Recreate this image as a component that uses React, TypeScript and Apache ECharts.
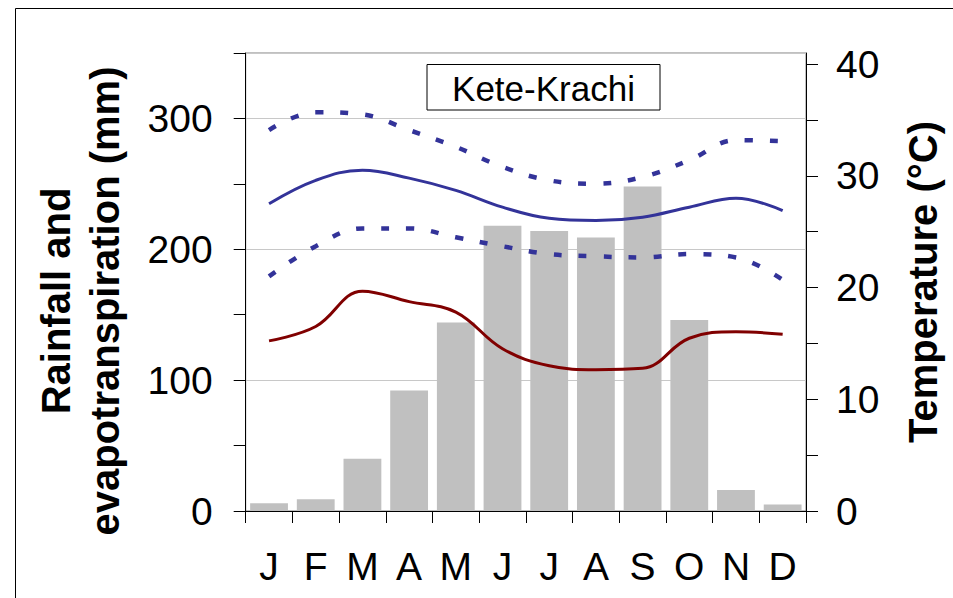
import React, { useEffect, useRef } from "react";
import * as echarts from "echarts";

const months = ["J", "F", "M", "A", "M", "J", "J", "A", "S", "O", "N", "D"];
const rainfall = [6, 9, 40, 92, 144, 218, 214, 209, 248, 146, 16, 5];
const evapotranspiration = [130, 141, 168, 160, 152, 124, 111, 108, 109, 132, 137, 135];
const tempMean = [27.5, 29.6, 30.5, 29.8, 28.7, 27.2, 26.2, 26.0, 26.3, 27.2, 28.0, 26.9];
const tempMax = [34.1, 35.7, 35.5, 34.1, 32.6, 30.8, 29.6, 29.3, 29.9, 31.4, 33.2, 33.1];
const tempMin = [21.0, 23.7, 25.3, 25.3, 24.5, 23.7, 23.0, 22.8, 22.7, 23.0, 22.7, 20.7];
const leftTicks = [0, 50, 100, 150, 200, 250, 300, 350];
const rightTicks = [0, 5, 10, 15, 20, 25, 30, 35, 40];
const stationName = "Kete-Krachi";
const leftTitle = "Rainfall and\nevapotranspiration (mm)";
const rightTitle = "Temperature (°C)";

const FONT = "'Liberation Sans', Arial, sans-serif";

export default function App() {
  const ref = useRef<HTMLDivElement>(null);
  useEffect(() => {
    if (!ref.current) return;
    const chart = echarts.init(ref.current, null, { renderer: "svg" });
    const option: any = {
      animation: false,
      backgroundColor: "#ffffff",
      grid: {
        left: 245.7,
        right: 147,
        top: 53,
        bottom: 87,
        show: true,
        borderColor: "#808080",
        borderWidth: 1,
        backgroundColor: "transparent",
      },
      xAxis: {
        type: "category",
        data: months,
        boundaryGap: true,
        axisLine: { lineStyle: { color: "#000", width: 1 } },
        axisTick: { show: true, alignWithLabel: false, length: 12, lineStyle: { color: "#000" } },
        axisLabel: { fontSize: 39, fontFamily: FONT, color: "#000", margin: 36, interval: 0 },
        splitLine: { show: false },
      },
      yAxis: [
        {
          type: "value",
          min: 0,
          max: 350,
          interval: 50,
          position: "left",
          axisLine: { show: true, lineStyle: { color: "#000", width: 1 } },
          axisTick: { show: true, length: 12, lineStyle: { color: "#000" }, customValues: leftTicks },
          axisLabel: {
            fontSize: 39,
            fontFamily: FONT,
            color: "#000",
            margin: 33,
            formatter: (v: number) => (v % 100 === 0 ? String(v) : ""),
          },
          splitLine: { show: false },
        },
        {
          type: "value",
          min: 0,
          max: 41,
          interval: 5,
          position: "right",
          axisLine: { show: true, lineStyle: { color: "#000", width: 1 } },
          axisTick: { show: true, length: 12, lineStyle: { color: "#000" }, customValues: rightTicks },
          axisLabel: {
            fontSize: 39,
            fontFamily: FONT,
            color: "#000",
            margin: 30,
            formatter: (v: number) => (v % 10 === 0 && v <= 40 ? String(v) : ""),
          },
          splitLine: { show: false },
        },
        {
          type: "value",
          min: 0,
          max: 350,
          interval: 100,
          position: "left",
          axisLine: { show: false },
          axisTick: { show: false },
          axisLabel: { show: false },
          splitLine: { show: true, lineStyle: { color: "#C8C8C8", width: 1 } },
        },
      ],
      series: [
        {
          type: "bar",
          data: rainfall,
          yAxisIndex: 0,
          barCategoryGap: "19%",
          itemStyle: { color: "#C0C0C0" },
          z: 2,
        },
        {
          type: "line",
          data: evapotranspiration,
          yAxisIndex: 0,
          smooth: 0.4,
          symbol: "none",
          lineStyle: { color: "#800000", width: 3 },
          z: 3,
        },
        {
          type: "line",
          data: tempMax,
          yAxisIndex: 1,
          smooth: 0.4,
          symbol: "none",
          lineStyle: { color: "#333399", width: 4.5, type: [8, 17], cap: "butt" },
          z: 3,
        },
        {
          type: "line",
          data: tempMean,
          yAxisIndex: 1,
          smooth: 0.4,
          symbol: "none",
          lineStyle: { color: "#333399", width: 3 },
          z: 3,
        },
        {
          type: "line",
          data: tempMin,
          yAxisIndex: 1,
          smooth: 0.4,
          symbol: "none",
          lineStyle: { color: "#333399", width: 4.5, type: [8, 17], cap: "butt" },
          z: 3,
        },
      ],
      graphic: [
        {
          type: "rect",
          silent: true,
          shape: { x: 15.5, y: 8.5, width: 980, height: 640 },
          style: { fill: "none", stroke: "#000", lineWidth: 1 },
          z: 100,
        },
        {
          type: "rect",
          silent: true,
          shape: { x: 427, y: 64.5, width: 233, height: 45.5 },
          style: { fill: "#fff", stroke: "#000", lineWidth: 1 },
          z: 100,
        },
        {
          type: "text",
          silent: true,
          x: 543.5,
          y: 88,
          style: {
            text: stationName,
            font: `35px ${FONT}`,
            fill: "#000",
            textAlign: "center",
            textVerticalAlign: "middle",
          },
          z: 101,
        },
        {
          type: "text",
          silent: true,
          x: 80,
          y: 301,
          rotation: Math.PI / 2,
          style: {
            text: leftTitle,
            font: `bold 40px ${FONT}`,
            lineHeight: 49,
            fill: "#000",
            textAlign: "center",
            textVerticalAlign: "middle",
          },
          z: 100,
        },
        {
          type: "text",
          silent: true,
          x: 923,
          y: 282,
          rotation: Math.PI / 2,
          style: {
            text: rightTitle,
            font: `bold 40px ${FONT}`,
            fill: "#000",
            textAlign: "center",
            textVerticalAlign: "middle",
          },
          z: 100,
        },
      ],
    };
    chart.setOption(option);
    return () => chart.dispose();
  }, []);
  return (
    <div
      ref={ref}
      style={{ position: "fixed", left: 0, top: 0, width: 953, height: 598, background: "#fff" }}
    />
  );
}
